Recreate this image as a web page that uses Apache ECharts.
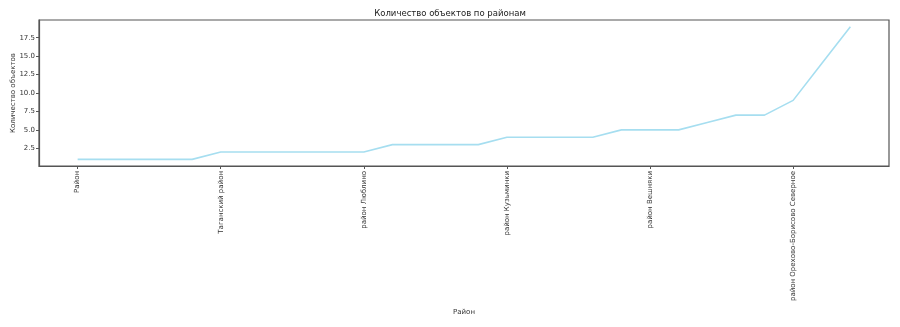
<!DOCTYPE html>
<html>
<head>
<meta charset="utf-8">
<script src="https://cdn.jsdelivr.net/npm/echarts@6/dist/echarts.min.js"></script>
<style>html,body{margin:0;padding:0;background:#fff;}#c{width:900px;height:327px;}</style>
</head>
<body>
<div id="c"></div>
<script>
const categories = [
  "Район", "район Арбат", "Басманный район", "район Хамовники", "Пресненский район",
  "Таганский район", "Мещанский район", "район Сокольники", "район Марьино", "район Лефортово",
  "район Люблино", "район Текстильщики", "район Печатники", "район Капотня", "Нижегородский район",
  "район Кузьминки", "район Перово", "район Новогиреево", "район Ивановское", "район Измайлово",
  "район Вешняки", "район Гольяново", "район Царицыно", "район Бирюлёво Восточное", "район Выхино-Жулебино",
  "район Орехово-Борисово Северное", "район Орехово-Борисово Южное", "Тверской район"
];
const counts = [1,1,1,1,1, 2,2,2,2,2, 2,3,3,3,3, 4,4,4,4,5, 5,5,6,7,7, 9,14,19];
const xTickIdx = [0,5,10,15,20,25];
const yTicks = [2.5,5,7.5,10,12.5,15,17.5];

const font = "DejaVu Sans";
const tc = '#333';
const chart = echarts.init(document.getElementById('c'), null, {renderer:'canvas'});
chart.setOption({
  animation:false,
  backgroundColor:'#fff',
  title:{text:'Количество объектов по районам', left:'center', top:4,
    textStyle:{fontFamily:font, fontSize:8.5, fontWeight:'normal', color:'#222'}},
  grid:{left:39, right:11, top:20, bottom:161, show:true, borderColor:'#555', borderWidth:1.2,
    containLabel:false, outerBoundsMode:'none'},
  xAxis:{
    type:'value', min:-1.35, max:28.35,
    name:'Район', nameLocation:'middle', nameGap:143, nameMoveOverlap:false,
    nameTextStyle:{fontFamily:font, fontSize:7, color:tc},
    axisLine:{show:true, onZero:false, lineStyle:{color:'#555', width:1.2}},
    splitLine:{show:false},
    axisTick:{show:true, length:3, lineStyle:{color:'#555'}, customValues:xTickIdx},
    axisLabel:{rotate:90, margin:5, fontFamily:font, fontSize:7, color:tc,
      customValues:xTickIdx, formatter:v=>categories[Math.round(v)]}
  },
  yAxis:{
    type:'value', min:0.1, max:19.9,
    name:'Количество объектов', nameLocation:'middle', nameGap:22, nameMoveOverlap:false,
    nameTextStyle:{fontFamily:font, fontSize:7, color:tc},
    axisLine:{show:true, onZero:false, lineStyle:{color:'#555', width:1.2}},
    splitLine:{show:false},
    axisTick:{show:true, length:3, lineStyle:{color:'#555'}, customValues:yTicks},
    axisLabel:{margin:4, fontFamily:font, fontSize:7, color:tc,
      customValues:yTicks, formatter:v=>v.toFixed(1)}
  },
  series:[{
    type:'line', data:counts.map((v,i)=>[i,v]), showSymbol:false,
    lineStyle:{color:'#a6def0', width:1.6}, itemStyle:{color:'#a6def0'}
  }]
});
</script>
</body>
</html>
